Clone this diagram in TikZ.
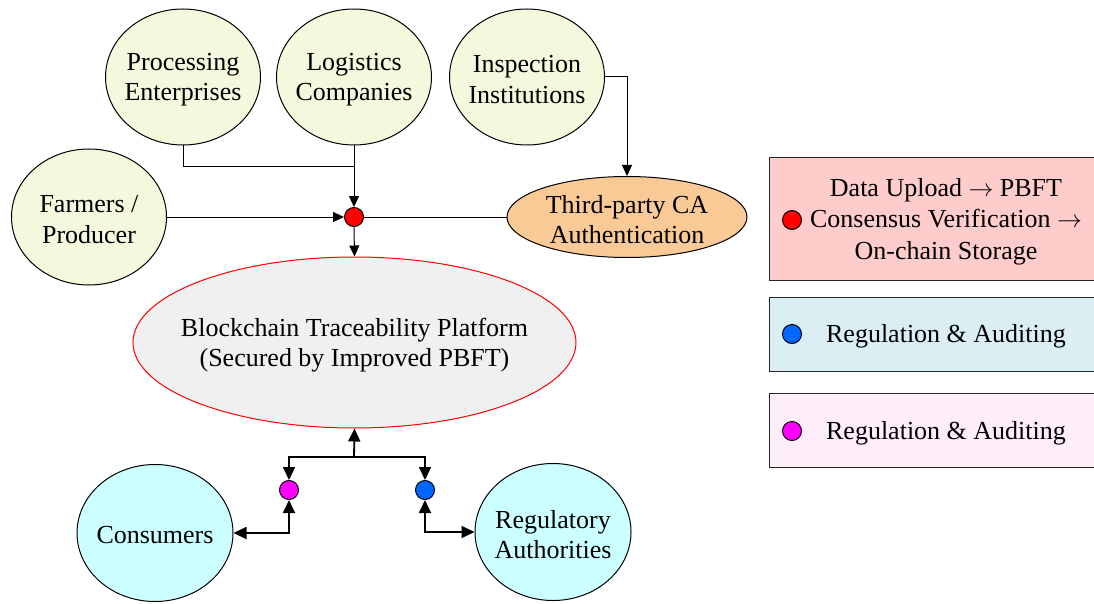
\documentclass[tikz,border=0pt]{standalone}
\usepackage{fontspec}
\setmainfont{Liberation Serif}
\usetikzlibrary{shapes.geometric,arrows.meta}
\definecolor{actorfill}{HTML}{F5F8DC}
\definecolor{cafill}{HTML}{F9C996}
\definecolor{chainfill}{HTML}{F0F0F0}
\definecolor{userfill}{HTML}{CCFFFF}
\definecolor{keyred}{HTML}{FFCCCC}
\definecolor{keyblue}{HTML}{DAEEF3}
\definecolor{keypink}{HTML}{FDEEFA}
\definecolor{dotblue}{HTML}{0066FF}
\definecolor{dotmag}{HTML}{FF00FF}
\begin{document}
\begin{tikzpicture}[x=1pt,y=-1pt,
  shell/.style={ellipse, draw, line width=1pt, inner sep=0pt},
  actor/.style={shell, fill=actorfill, minimum width=155pt, minimum height=136pt},
  user/.style={shell, fill=userfill, minimum width=156pt, minimum height=137pt},
  lbl/.style={align=center, inner sep=0pt, yshift=-2.5pt, font=\fontsize{26}{30.5}\selectfont},
  hub/.style={circle, draw, line width=1pt, minimum size=19pt, inner sep=0pt},
  tip/.tip={Triangle[length=11pt,width=10pt]},
  bigtip/.tip={Triangle[length=13pt,width=12pt]},
  plain/.style={line width=1pt},
  flow/.style={line width=1pt, -tip},
  upflow/.style={line width=1.8pt, -bigtip},
  twoway/.style={line width=1.8pt, bigtip-bigtip},
  keybox/.style={draw=black!85, line width=1pt}]
\useasboundingbox (0,0) rectangle (1094,604);

% participants
\node[actor] (proc) at (183,77) {};
\node[lbl] at (proc) {Processing\\Enterprises};
\node[actor] (logi) at (354,77) {};
\node[lbl] at (logi) {Logistics\\Companies};
\node[actor] (insp) at (527,77) {};
\node[lbl] at (insp) {Inspection\\Institutions};
\node[actor] (farm) at (89,217) {};
\node[lbl] at (farm) {Farmers /\\Producer};

% certificate authority
\node[shell, fill=cafill, minimum width=240pt, minimum height=81pt] (ca) at (627,217) {};
\node[lbl] at (ca) {Third-party CA\\Authentication};

% platform
\node[shell, draw=red, fill=chainfill, minimum width=443pt, minimum height=171pt] (chain) at (354.5,342.5) {};
\node[lbl] at (chain) {Blockchain Traceability Platform\\(Secured by Improved PBFT)};

% end users
\node[user] (cons) at (155,533) {};
\node[lbl] at (cons) {Consumers};
\node[user] (regu) at (553,532) {};
\node[lbl] at (regu) {Regulatory\\Authorities};

% junction dots
\node[hub, fill=red] (hub) at (354,217) {};
\node[hub, fill=dotmag] (pm) at (289,490) {};
\node[hub, fill=dotblue] (bl) at (425,490) {};

% upload flows
\coordinate (merge) at (354,167);
\draw[plain] (proc.south) |- (merge);
\draw[flow] (logi.south) -- (hub.north);
\draw[flow] (farm.east) -- (hub.west);
\draw[plain] (hub.east) -- (ca.west);
\draw[flow] (hub.south) -- (chain.north);
\draw[flow] (insp.east) -| (ca.north);

% query / audit flows
\coordinate (split) at (354,457);
\draw[upflow] (split) -- (chain.south);
\draw[upflow] (split) -| (pm.north);
\draw[upflow] (split) -| (bl.north);
\draw[twoway] (cons.east) -| (pm.south);
\draw[twoway] (bl.south) |- (regu.west);

% key
\draw[keybox, fill=keyred] (769,158) rectangle (1110,280);
\draw[keybox, fill=keyblue] (769,297) rectangle (1110,371);
\draw[keybox, fill=keypink] (769,393) rectangle (1110,467);
\node[hub, fill=red] (k1) at (792,220) {};
\node[hub, fill=dotblue] (k2) at (792,334) {};
\node[hub, fill=dotmag] (k3) at (792,431) {};
\node[lbl, font=\fontsize{26}{31.5}\selectfont] (t1) at (946,219) {Data Upload $\rightarrow$ PBFT\\Consensus Verification $\rightarrow$\\On-chain Storage};
\node[lbl] (t2) at (946,334) {Regulation \& Auditing};
\node[lbl] (t3) at (946,431) {Regulation \& Auditing};
\end{tikzpicture}
\end{document}
